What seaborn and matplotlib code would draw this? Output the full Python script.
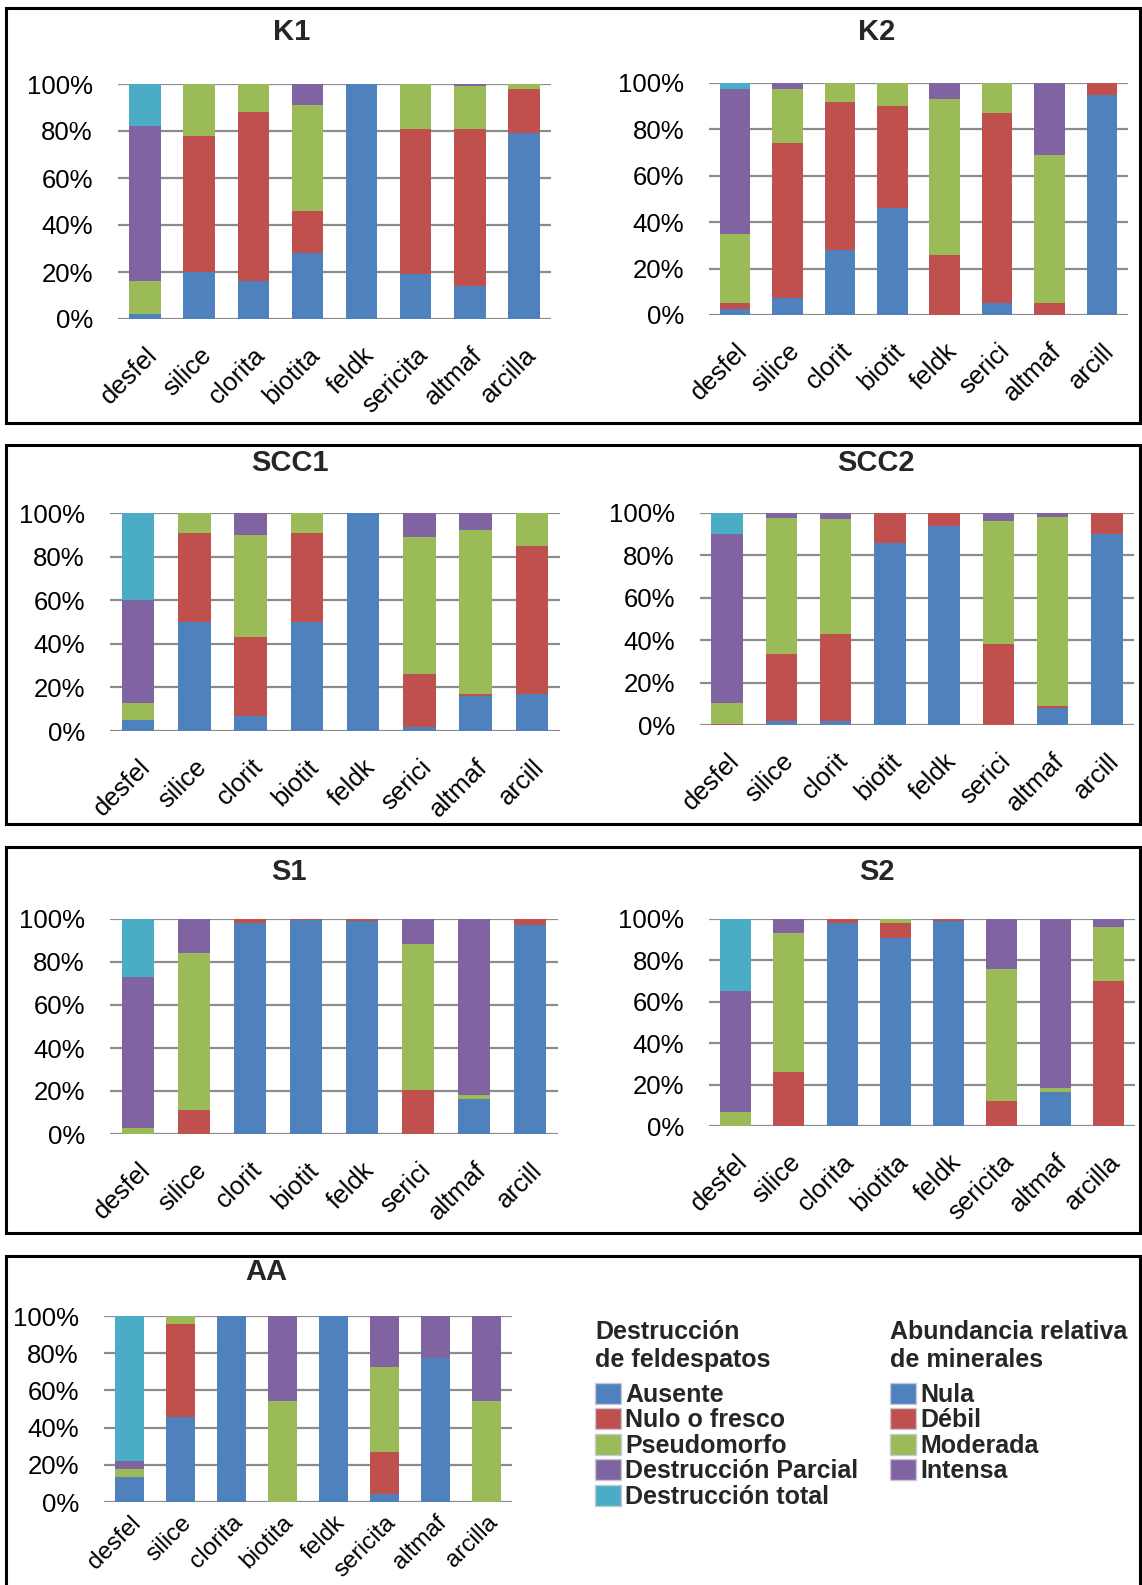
import numpy as np
import pandas as pd
import seaborn as sns
import matplotlib.pyplot as plt
from matplotlib.patches import Rectangle, Patch
from matplotlib.ticker import FuncFormatter

W, H = 1142, 1585

CLASES = ["Ausente", "Nulo o fresco", "Pseudomorfo", "Destrucción Parcial", "Destrucción total"]
ABUNDANCIA = ["Nula", "Débil", "Moderada", "Intensa"]
COLORES = ["#4F81BD", "#C0504D", "#9BBB59", "#8064A2", "#4BACC6"]

LARGOS = ["desfel", "silice", "clorita", "biotita", "feldk", "sericita", "altmaf", "arcilla"]
CORTOS = ["desfel", "silice", "clorit", "biotit", "feldk", "serici", "altmaf", "arcill"]

# % por clase (de abajo hacia arriba: azul, rojo, verde, morado, celeste)
K1 = [
    [2, 20, 16, 28, 100, 19, 14, 79],
    [0, 58, 72, 18, 0, 62, 67, 19],
    [14, 22, 12, 45, 0, 19, 18, 2],
    [66, 0, 0, 9, 0, 0, 1, 0],
    [18, 0, 0, 0, 0, 0, 0, 0],
]
K2 = [
    [2.5, 7.5, 28, 46, 0, 5, 0, 95],
    [2.5, 66.5, 64, 44, 26, 82, 5, 5],
    [30, 23.5, 8, 10, 67, 13, 64, 0],
    [62.5, 2.5, 0, 0, 7, 0, 31, 0],
    [2.5, 0, 0, 0, 0, 0, 0, 0],
]
SCC1 = [
    [5, 50, 7, 50, 100, 2, 16, 17],
    [0, 41, 36, 41, 0, 24, 1, 68],
    [8, 9, 47, 9, 0, 63, 75, 15],
    [47, 0, 10, 0, 0, 11, 8, 0],
    [40, 0, 0, 0, 0, 0, 0, 0],
]
SCC2 = [
    [0, 2, 2, 86, 94, 0, 8, 90],
    [0.5, 31.5, 41, 14, 6, 38, 1, 10],
    [10, 64, 54, 0, 0, 58, 89, 0],
    [79.5, 2.5, 3, 0, 0, 4, 2, 0],
    [10, 0, 0, 0, 0, 0, 0, 0],
]
S1 = [
    [0, 0, 98, 99.5, 99, 0, 16.5, 97],
    [0, 11, 2, 0.5, 1, 20.5, 0, 3],
    [3, 73, 0, 0, 0, 68, 1.5, 0],
    [70, 16, 0, 0, 0, 11.5, 82, 0],
    [27, 0, 0, 0, 0, 0, 0, 0],
]
S2 = [
    [0, 0, 98, 91, 99, 0, 16.5, 0],
    [0, 26, 2, 7, 1, 12, 0, 70],
    [7, 67, 0, 2, 0, 64, 2, 26],
    [58, 7, 0, 0, 0, 24, 81.5, 4],
    [35, 0, 0, 0, 0, 0, 0, 0],
]
AA = [
    [13.5, 45.5, 100, 0, 100, 4.5, 77.5, 0],
    [0, 50, 0, 0, 0, 22.5, 0, 0],
    [4.5, 4.5, 0, 54.5, 0, 45.5, 0, 54.5],
    [4, 0, 0, 45.5, 0, 27.5, 22.5, 45.5],
    [78, 0, 0, 0, 0, 0, 0, 0],
]

sns.set_theme(style="white")
plt.rcParams["font.family"] = ["Liberation Sans", "DejaVu Sans"]


def px_axes(fig, x0, x1, y0, y1):
    return fig.add_axes([x0 / W, 1 - y1 / H, (x1 - x0) / W, (y1 - y0) / H])


def dibujar(ax, nombres, valores, xpad=17, xsize=18.5):
    df = pd.DataFrame({
        "mineral": np.tile(nombres, len(CLASES)),
        "clase": np.repeat(CLASES, len(nombres)),
        "pct": np.concatenate(valores),
    })
    sns.histplot(data=df, x="mineral", weights="pct", hue="clase",
                 hue_order=CLASES[::-1], palette=dict(zip(CLASES, COLORES)),
                 multiple="stack", discrete=True, shrink=0.58,
                 linewidth=0, alpha=1, legend=False, ax=ax)
    ax.set_xlim(-0.5, len(nombres) - 0.5)
    ax.set_ylim(0, 100)
    ax.set_yticks(range(0, 101, 20))
    ax.yaxis.set_major_formatter(FuncFormatter(lambda v, p: f"{v:.0f}%"))
    ax.set_xticks(range(len(nombres)))
    ax.set_xticklabels(nombres, rotation=45, ha="right", va="top",
                       rotation_mode="anchor")
    ax.set_xlabel("")
    ax.set_ylabel("")
    ax.grid(axis="y", color="#8c8c8c", lw=1.6)
    ax.grid(axis="x", visible=False)
    ax.set_axisbelow(True)
    for s in ax.spines.values():
        s.set_visible(False)
    ax.tick_params(axis="y", length=0, pad=18, labelsize=18.5, labelcolor="black")
    ax.tick_params(axis="x", length=0, pad=xpad, labelsize=xsize, labelcolor="black")


fig = plt.figure(figsize=(W / 100, H / 100), dpi=100)

# recuadros de cada fila
for y0, y1 in [(8, 423), (445, 824), (847, 1233), (1256, 1600)]:
    fig.add_artist(Rectangle((6 / W, 1 - y1 / H), 1134 / W, (y1 - y0) / H,
                             transform=fig.transFigure, fill=False,
                             edgecolor="black", lw=2.2))

paneles = [
    ("K1", K1, LARGOS, (118, 551, 84, 319), (292, 32)),
    ("K2", K2, CORTOS, (709, 1128, 83, 315), (877, 32)),
    ("SCC1", SCC1, CORTOS, (110, 560, 513, 731), (290, 463)),
    ("SCC2", SCC2, CORTOS, (700, 1134, 513, 725), (876, 463)),
    ("S1", S1, CORTOS, (110, 558, 919, 1134), (289, 872)),
    ("S2", S2, LARGOS, (709, 1135, 919, 1126), (877, 872)),
]

for titulo, valores, nombres, caja, pos in paneles:
    ax = px_axes(fig, *caja)
    dibujar(ax, nombres, valores)
    fig.text(pos[0] / W, 1 - pos[1] / H, titulo, ha="center", va="center",
             fontsize=21, fontweight="bold")

# AA: etiquetas más pegadas al eje para que quepan
ax = px_axes(fig, 104, 512, 1316, 1502)
dibujar(ax, LARGOS, AA, xpad=7, xsize=17.5)
fig.text(266 / W, 1 - 1272 / H, "AA", ha="center", va="center",
         fontsize=21, fontweight="bold")

# leyendas
estilo = dict(loc="upper left", frameon=False, title_fontsize=18,
              handlelength=1.05, handleheight=0.92, handletextpad=0.15,
              labelspacing=0.05, borderpad=0, borderaxespad=0, alignment="left",
              prop={"weight": "bold", "size": 18})

h1 = [Patch(facecolor=c, edgecolor="#c8c8d8") for c in COLORES]
leg1 = fig.legend(h1, CLASES, bbox_to_anchor=(595 / W, 1 - 1320 / H),
                  title="Destrucción\nde feldespatos", **estilo)

h2 = [Patch(facecolor=c, edgecolor="#c8c8d8") for c in COLORES[:4]]
leg2 = fig.legend(h2, ABUNDANCIA, bbox_to_anchor=(890 / W, 1 - 1320 / H),
                  title="Abundancia relativa\nde minerales", **estilo)

for leg in (leg1, leg2):
    leg.get_title().set_fontweight("bold")
    leg._legend_box.sep = 8

fig.savefig("out.png", dpi=100)
